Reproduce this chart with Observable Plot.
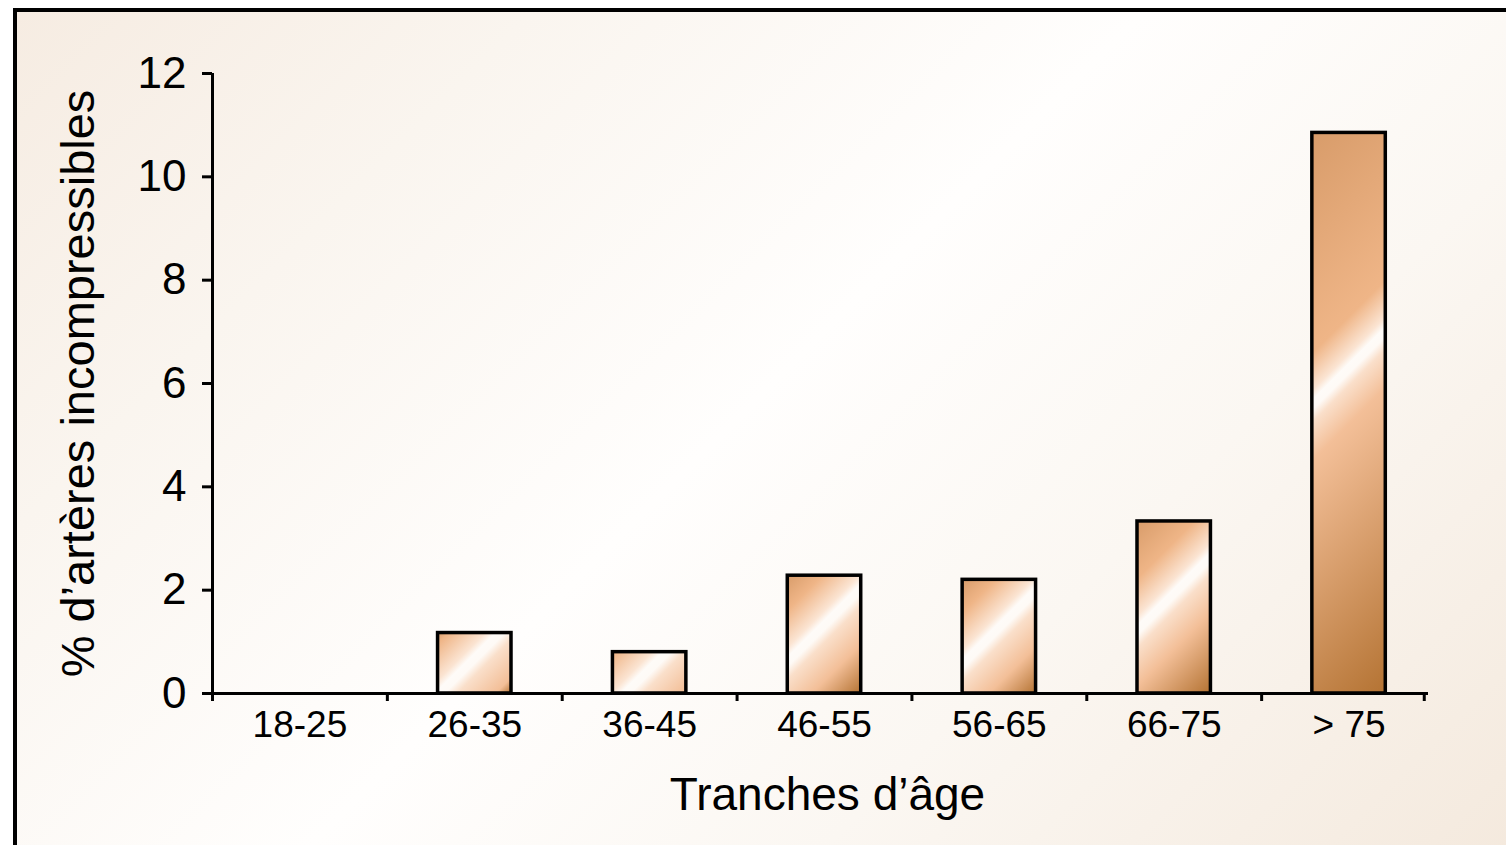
<!DOCTYPE html>
<html><head><meta charset="utf-8">
<script src="https://cdn.jsdelivr.net/npm/d3@7"></script>
<script src="https://cdn.jsdelivr.net/npm/@observablehq/plot@0.6"></script>
<style>
html,body{margin:0;padding:0;background:#fff;overflow:hidden;width:1506px;height:845px}
#panel{position:absolute;left:13px;top:8px;right:-12px;bottom:-12px;border-left:4px solid #000;border-top:4px solid #000;
  background:linear-gradient(135deg,#f6ece2 0%,#faf5ef 22%,#fffefd 48%,#fbf7f2 70%,#f4e9dd 100%)}
#chart{position:absolute;left:0;top:0}
</style></head><body>
<div id="panel"></div><div id="chart"></div>
<script>
// ---- data ----
const categories = ["18-25", "26-35", "36-45", "46-55", "56-65", "66-75", "> 75"];
const values = [0, 1.17, 0.8, 2.28, 2.2, 3.33, 10.85];
const yTicks = [0, 2, 4, 6, 8, 10, 12];
const xTickEdges = [0, 1, 2, 3, 4, 5, 6, 6.93];
const yLabel = "% d’artères incompressibles";
const xLabel = "Tranches d’âge";

const data = categories.map((c, i) => ({cat: c, i, value: values[i]}));
const bandCenters = categories.map((c, i) => i + 0.5);

const chart = Plot.plot({
  width: 1506,
  height: 845,
  marginLeft: 212,
  marginRight: 70,
  marginTop: 73,
  marginBottom: 152,
  style: {background: "transparent", fontFamily: "'Liberation Sans', Arial, sans-serif", color: "#000"},
  x: {domain: [0, categories.length], axis: null},
  y: {domain: [0, 12], axis: null},
  marks: [
    Plot.rectY(data.filter(d => d.value > 0), {
      x1: d => d.i + 0.29, x2: d => d.i + 0.71, y1: 0, y2: "value",
      fill: "#e8a878", stroke: "#000", strokeWidth: 3.5
    }),
    Plot.ruleX([0], {stroke: "#000", strokeWidth: 3, insetBottom: -7}),
    Plot.ruleY([0], {stroke: "#000", strokeWidth: 3, insetLeft: -8, insetRight: 8}),
    Plot.axisY({ticks: yTicks, tickSize: 10, tickPadding: 16, strokeWidth: 3, fontSize: 44, label: null, tickFormat: d => String(d)}),
    Plot.axisX({ticks: xTickEdges, tickSize: 8, strokeWidth: 3, tickFormat: () => "", label: null}),
    Plot.axisX({ticks: bandCenters, tickSize: 0, tickPadding: 17, fontSize: 37, label: null,
      tickFormat: d => categories[Math.floor(d)]}),
    Plot.text([xLabel], {frameAnchor: "bottom", dy: 116, dx: 3, fontSize: 46, fill: "#000"}),
    Plot.text([yLabel], {frameAnchor: "left", textAnchor: "middle", rotate: -90, dx: -134, fontSize: 47, fill: "#000"})
  ]
});

// per-bar diagonal gradient with a white highlight streak
const svg = d3.select(chart);
const defs = svg.insert("defs", ":first-child");
svg.selectAll("rect").filter(function() { return this.getAttribute("fill") === "#e8a878"
    || (this.parentNode && this.parentNode.getAttribute("fill") === "#e8a878"); })
  .each(function(d, k) {
  const r = d3.select(this);
  const x = +r.attr("x"), y = +r.attr("y"), w = +r.attr("width"), h = +r.attr("height");
  const L = (w + h) / Math.SQRT2;
  const s = (w / 2 + 0.42 * h) / Math.SQRT2;
  const f = u => Math.max(0, Math.min(1, u / L));
  const id = "barGrad" + k;
  const g = defs.append("linearGradient").attr("id", id).attr("gradientUnits", "userSpaceOnUse")
    .attr("x1", x).attr("y1", y).attr("x2", x + (w + h) / 2).attr("y2", y + (w + h) / 2);
  const stops = [
    [0, "#d89c6a"],
    [f(s - 36), "#efb587"],
    [f(s - 10), "#fbe4d2"],
    [f(s - 3), "#fefbf8"],
    [f(s + 4), "#fefaf6"],
    [f(s + 13), "#fadfca"],
    [f(s + 40), "#f3bf98"],
    [1, "#b47333"]
  ];
  stops.forEach(([o, c]) => g.append("stop").attr("offset", o).attr("stop-color", c));
  r.attr("fill", `url(#${id})`);
});

document.getElementById("chart").append(chart);
</script>
</body></html>
